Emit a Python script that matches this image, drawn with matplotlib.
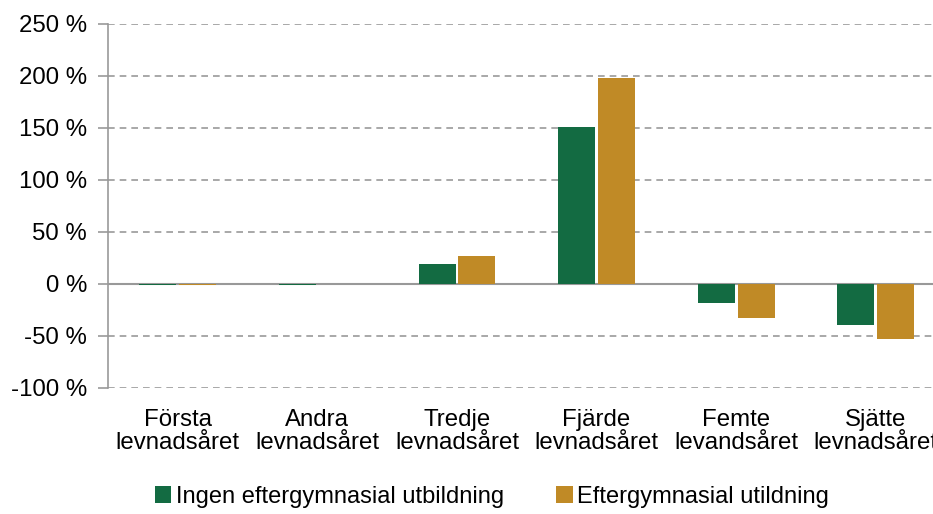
import matplotlib
matplotlib.use("Agg")
import matplotlib.pyplot as plt
import numpy as np

categories = ["Första\nlevnadsåret", "Andra\nlevnadsåret", "Tredje\nlevnadsåret",
              "Fjärde\nlevnadsåret", "Femte\nlevandsåret", "Sjätte\nlevnadsåret"]
series_names = ["Ingen eftergymnasial utbildning", "Eftergymnasial utildning"]
ingen = [-1, -0.5, 19, 151, -18, -39]
efter = [-0.8, 0, 27, 198, -33, -53]
yticks = [-100, -50, 0, 50, 100, 150, 200, 250]

green = "#136B42"
gold = "#C08A26"

plt.rcParams['font.family'] = ['Liberation Sans', 'DejaVu Sans']

fig = plt.figure(figsize=(9.33, 5.14), dpi=100)
ax = fig.add_axes([108/933, 1-388/514, 837.6/933, (388-24)/514])

x = np.arange(len(categories))
w = 0.265
off = 0.143
ax.bar(x - off, ingen, w, color=green, label=series_names[0], zorder=5)
ax.bar(x + off, efter, w, color=gold, label=series_names[1], zorder=5)

ax.set_xlim(-0.5, len(categories) - 0.5)
ax.set_ylim(-100, 250)
ax.set_yticks(yticks)
ax.set_yticklabels([f"{v} %" for v in yticks], fontsize=17.3)
ax.set_xticks(x)
ax.set_xticklabels(categories, fontsize=17.3, linespacing=1.05)
ax.tick_params(axis='x', length=0, pad=15)
ax.tick_params(axis='y', length=7, color="#999999", width=1.2, pad=8)

for v in yticks:
    if v == 0:
        ax.axhline(v, color="#999999", lw=1.5, zorder=4)
    else:
        ax.axhline(v, color="#999999", lw=1.2, ls=(0, (4, 3)), zorder=1)

for s in ["top", "right", "bottom"]:
    ax.spines[s].set_visible(False)
ax.spines["left"].set_color("#999999")
ax.spines["left"].set_linewidth(1.2)

fig.legend(loc="center", bbox_to_anchor=(492/933, 1-497/514), ncol=2, frameon=False,
           fontsize=17, handlelength=0.7, handleheight=0.7, handletextpad=0.2,
           columnspacing=2.2)

fig.savefig("out.png", dpi=100)
